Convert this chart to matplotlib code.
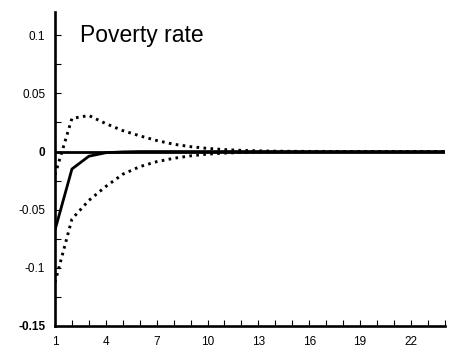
import matplotlib
matplotlib.use("Agg")
import matplotlib.pyplot as plt
from matplotlib.ticker import MultipleLocator, FixedLocator, FixedFormatter

plt.rcParams['font.family'] = ['Liberation Sans', 'DejaVu Sans']

periods = list(range(1, 25))
response = [-0.0675, -0.015, -0.004, -0.001, -0.0003, 0, 0, 0, 0, 0, 0, 0,
            0, 0, 0, 0, 0, 0, 0, 0, 0, 0, 0, 0]
upper = [-0.02, 0.0285, 0.031, 0.024, 0.018, 0.0135, 0.0095, 0.0063, 0.0042,
         0.0027, 0.0017, 0.001, 0.0006, 0.0003, 0.0002, 0.0001, 0.0001, 0,
         0, 0, 0, 0, 0, 0]
lower = [-0.1125, -0.058, -0.042, -0.030, -0.0195, -0.013, -0.0087, -0.0058,
         -0.0037, -0.0022, -0.0013, -0.0008, -0.0005, -0.0003, -0.0002,
         -0.0001, -0.0001, 0, 0, 0, 0, 0, 0, 0]

ytick_vals = [-0.15, -0.1, -0.05, 0, 0.05, 0.1]
ytick_text = ['-0.15', '-0.1', '-0.05', '0', '0.05', '0.1']
xtick_vals = [1, 4, 7, 10, 13, 16, 19, 22]

fig = plt.figure(figsize=(4.53, 3.52), dpi=100)
ax = fig.add_axes([0.1214, 0.0739, 0.8606, 0.892])

ax.axhline(0, color='black', lw=2.0, zorder=2)
ax.plot(periods, response, color='black', lw=2.0, zorder=3)
dots = (0, (0.9, 1.5))
ax.plot(periods, upper, color='black', lw=2.1, linestyle=dots, zorder=3)
ax.plot(periods, lower, color='black', lw=2.1, linestyle=dots, zorder=3)

ax.set_xlim(1, 24)
ax.set_ylim(-0.15, 0.12)

for s in ['top', 'right']:
    ax.spines[s].set_visible(False)
for s in ['left', 'bottom']:
    ax.spines[s].set_linewidth(1.9)

ax.yaxis.set_major_locator(FixedLocator(ytick_vals))
ax.yaxis.set_major_formatter(FixedFormatter(ytick_text))
ax.yaxis.set_minor_locator(MultipleLocator(0.025))
ax.xaxis.set_major_locator(FixedLocator(xtick_vals))
ax.xaxis.set_major_formatter(FixedFormatter([str(v) for v in xtick_vals]))
ax.xaxis.set_minor_locator(MultipleLocator(1))

ax.tick_params(axis='both', which='both', direction='in', length=4,
               width=0.8, labelsize=8.5, color='black')
ax.tick_params(axis='y', pad=7)
ax.tick_params(axis='x', pad=7)
for lbl in ax.get_yticklabels():
    if lbl.get_text() in ('-0.15', '0'):
        lbl.set_fontweight('bold')

ax.text(0.065, 0.925, 'Poverty rate', transform=ax.transAxes,
        fontsize=16.5, ha='left', va='center')

fig.savefig('out.png', dpi=100)
